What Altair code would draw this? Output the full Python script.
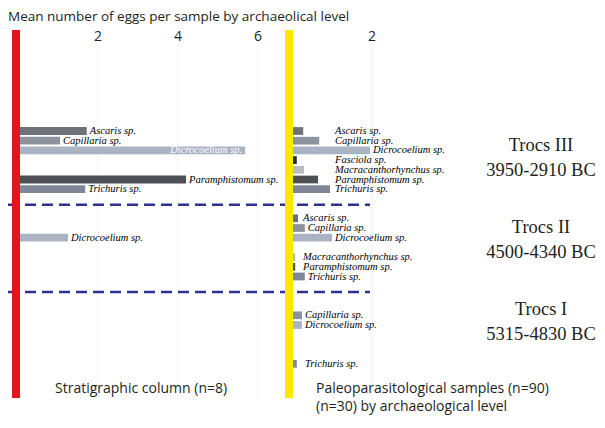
import altair as alt
import pandas as pd

# ---------------- data ----------------
title_text = "Mean number of eggs per sample by archaeolical level"
levels = ["Trocs III", "Trocs II", "Trocs I"]
periods = ["3950-2910 BC", "4500-4340 BC", "5315-4830 BC"]
species = ["Ascaris sp.", "Capillaria sp.", "Dicrocoelium sp.", "Fasciola sp.",
           "Macracanthorhynchus sp.", "Paramphistomum sp.", "Trichuris sp."]

# Stratigraphic column (n=8): mean eggs per sample, species order as above
strat_trocs3 = [1.72, 1.05, 5.68, 0, 0, 4.2, 1.68]
strat_trocs2 = [0, 0, 1.25, 0, 0, 0, 0]
strat_trocs1 = [0, 0, 0, 0, 0, 0, 0]
# Paleoparasitological samples (n=90)
samp_trocs3 = [0.28, 0.68, 1.95, 0.12, 0.3, 0.65, 0.95]
samp_trocs2 = [0.15, 0.32, 1.0, 0, 0.08, 0.08, 0.32]
samp_trocs1 = [0, 0.25, 0.25, 0, 0, 0, 0.12]

left_ticks = [2, 4, 6]
right_ticks = [2]
strat_caption = "Stratigraphic column (n=8)"
samples_caption = ["Paleoparasitological samples (n=90)", "(n=30) by archaeological level"]

# ---------------- style / layout ----------------
species_colors = ["#6e737b", "#8d939d", "#a9b3c4", "#2b2b2b", "#b5bac3", "#4d4f54", "#7e8796"]
W, H = 589, 408
ROW_PX = 9.7
ROW0_Y = 123.0
ROWS_PER_LEVEL = 9
PX_PER_UNIT = 40.0
LEFT_ZERO = 10.0
RIGHT_ZERO = 284.0
right_label_floor = {"Trocs III": 1.0, "Trocs II": 0.2, "Trocs I": 0.25}
SERIF = "Liberation Serif"
SANS = "Open Sans"

strat = [strat_trocs3, strat_trocs2, strat_trocs1]
samp = [samp_trocs3, samp_trocs2, samp_trocs1]

rows = []
for panel, table in (("strat", strat), ("samples", samp)):
    for li, lvl in enumerate(levels):
        for si, sp in enumerate(species):
            v = table[li][si]
            if v <= 0:
                continue
            slot = li * ROWS_PER_LEVEL + si
            if panel == "strat":
                lab = v
            else:
                lab = max(v, right_label_floor[lvl])
            rows.append(dict(panel=panel, level=lvl, species=sp, value=v, zero=0.0,
                             slot=slot, y0=slot - 0.4, y1=slot + 0.4, lab=lab,
                             inside=(panel == "strat" and v > 5)))
df = pd.DataFrame(rows)
left_df = df[df.panel == "strat"]
right_df = df[df.panel == "samples"]

ys = alt.Scale(domain=[-ROW0_Y / ROW_PX, (H - ROW0_Y) / ROW_PX], reverse=True, nice=False, zero=False)
xl = alt.Scale(domain=[-LEFT_ZERO / PX_PER_UNIT, (W - LEFT_ZERO) / PX_PER_UNIT], nice=False, zero=False)
xr = alt.Scale(domain=[-RIGHT_ZERO / PX_PER_UNIT, (W - RIGHT_ZERO) / PX_PER_UNIT], nice=False, zero=False)
col = alt.Color("species:N", scale=alt.Scale(domain=species, range=species_colors), legend=None)

sep_df = pd.DataFrame({"sep": [k * ROWS_PER_LEVEL + 7.6 for k in range(len(levels) - 1)]})


def bars(d, xs):
    return alt.Chart(d).mark_rect().encode(
        x=alt.X("value:Q", scale=xs, axis=None), x2="zero:Q",
        y=alt.Y("y0:Q", scale=ys, axis=None), y2="y1:Q", color=col)


def labels(d, xs, **kw):
    return alt.Chart(d).mark_text(baseline="middle", font=SERIF, fontStyle="italic",
                                  fontSize=10.5, **kw).encode(
        x=alt.X("lab:Q", scale=xs, axis=None),
        y=alt.Y("slot:Q", scale=ys, axis=None), text="species:N")


def grid(ticks, xs):
    return alt.Chart(pd.DataFrame({"t": ticks})).mark_rule(color="#f1f1f1", strokeWidth=1).encode(
        x=alt.X("t:Q", scale=xs, axis=None), y=alt.value(40), y2=alt.value(392))


def ticktext(ticks, xs):
    return alt.Chart(pd.DataFrame({"t": ticks})).mark_text(
        font=SANS, fontSize=14, color="#231f20", baseline="middle", align="center").encode(
        x=alt.X("t:Q", scale=xs, axis=None), y=alt.value(29), text="t:Q")


seps = alt.Chart(sep_df).mark_rule(color="#2e3192", strokeWidth=2.5, strokeDash=[11, 6]).encode(
    y=alt.Y("sep:Q", scale=ys, axis=None), x=alt.value(0), x2=alt.value(362))

red = alt.Chart(pd.DataFrame({"a": [0]})).mark_rect(color="#e3141b").encode(
    x=alt.value(4), x2=alt.value(12), y=alt.value(22), y2=alt.value(390))
yellow = alt.Chart(pd.DataFrame({"a": [0]})).mark_rect(color="#ffe800").encode(
    x=alt.value(277), x2=alt.value(285), y=alt.value(22), y2=alt.value(390))

left_out = labels(left_df[~left_df.inside], xl, align="left", dx=3, color="#000000")
left_in = alt.Chart(left_df[left_df.inside]).mark_text(
    baseline="middle", font=SERIF, fontStyle="italic", fontSize=10.5, align="right",
    dx=-3, color="white").encode(
    x=alt.X("value:Q", scale=xl, axis=None), y=alt.Y("slot:Q", scale=ys, axis=None),
    text="species:N")
right_lab = labels(right_df, xr, align="left", dx=3, color="#000000")

annots = [alt.Chart(pd.DataFrame({"a": [0]})).mark_text(
    text=title_text, font=SANS, fontSize=13.5, color="#231f20", align="left", baseline="middle").encode(
    x=alt.value(0), y=alt.value(9))]
for k, (lvl, per) in enumerate(zip(levels, periods)):
    for j, s in enumerate((lvl, per)):
        annots.append(alt.Chart(pd.DataFrame({"a": [0]})).mark_text(
            text=s, font=SERIF, fontSize=18.5, color="#231f20", align="center", baseline="middle").encode(
            x=alt.value(533), y=alt.value(137 + k * 82 + j * 25)))
annots.append(alt.Chart(pd.DataFrame({"a": [0]})).mark_text(
    text=strat_caption, font=SANS, fontSize=14, color="#231f20", align="left", baseline="middle").encode(
    x=alt.value(47), y=alt.value(381)))
for j, s in enumerate(samples_caption):
    annots.append(alt.Chart(pd.DataFrame({"a": [0]})).mark_text(
        text=s, font=SANS, fontSize=14, color="#231f20", align="left", baseline="middle").encode(
        x=alt.value(308), y=alt.value(381 + j * 18)))

chart = alt.layer(
    grid(left_ticks, xl), grid(right_ticks, xr),
    bars(left_df, xl), bars(right_df, xr),
    seps, red, yellow,
    left_out, left_in, right_lab,
    ticktext(left_ticks, xl), ticktext(right_ticks, xr),
    *annots,
).resolve_scale(x="independent").properties(
    width=W, height=H, autosize=alt.AutoSizeParams(type="none"), padding=0,
    background="white",
).configure_view(stroke=None)

chart.save("out.html", embed_options={"renderer": "svg", "actions": False})
